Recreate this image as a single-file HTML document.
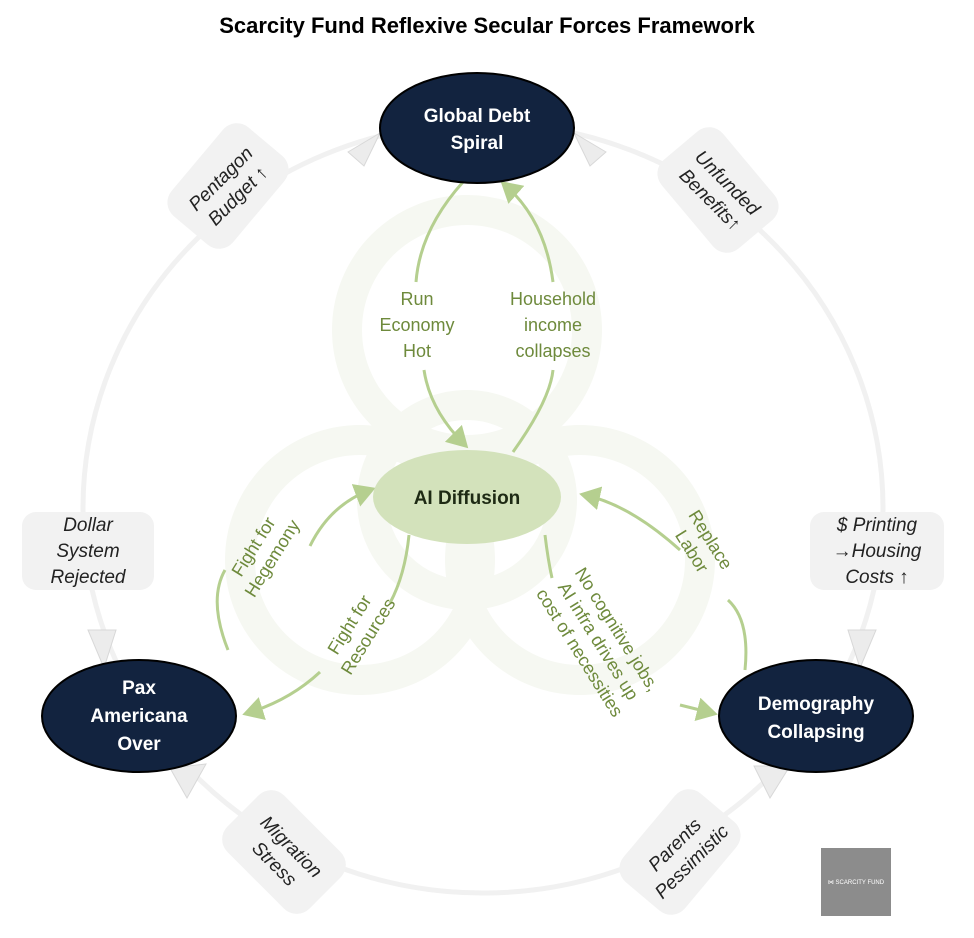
<!DOCTYPE html>
<html><head><meta charset="utf-8"><style>
html,body{margin:0;padding:0;background:#fff;}
svg{display:block;}
</style></head><body>
<svg width="974" height="938" viewBox="0 0 974 938" xmlns="http://www.w3.org/2000/svg" font-family="Liberation Sans, sans-serif">
<defs>
<marker id="ga" markerWidth="8" markerHeight="8" refX="5" refY="4" orient="auto" markerUnits="strokeWidth"><path d="M0,0 L7,4 L0,8 z" fill="#b5cf8f"/></marker>
</defs>
<text x="487" y="33" text-anchor="middle" font-size="22" font-weight="bold" fill="#000">Scarcity Fund Reflexive Secular Forces Framework</text>

<!-- faint biohazard background -->
<g fill="none" stroke="#f6f8f2" stroke-width="30">
<circle cx="467" cy="330" r="120"/>
<circle cx="360" cy="560" r="120"/>
<circle cx="580" cy="560" r="120"/>
<circle cx="467" cy="500" r="95"/>
</g>

<!-- outer ring -->
<ellipse cx="483" cy="508" rx="400" ry="385" fill="none" stroke="#f1f1f1" stroke-width="5"/>
<g fill="#ececec" stroke="#d8d8d8" stroke-width="1">
<path d="M348,152 L380,133 L364,166 z"/>
<path d="M606,152 L574,133 L590,166 z"/>
<path d="M88,630 L116,630 L104,668 z"/>
<path d="M848,630 L876,630 L860,668 z"/>
<path d="M187,798 L170,768 L206,764 z"/>
<path d="M770,798 L790,766 L754,766 z"/>
</g>

<!-- gray label boxes -->
<g fill="#f2f2f2">
<rect x="-58" y="-40" width="116" height="80" rx="18" transform="translate(228,186) rotate(-50)"/>
<rect x="-58" y="-40" width="116" height="80" rx="18" transform="translate(718,190) rotate(50)"/>
<rect x="22" y="512" width="132" height="78" rx="14"/>
<rect x="810" y="512" width="134" height="78" rx="14"/>
<rect x="-58" y="-40" width="116" height="80" rx="18" transform="translate(284,852) rotate(45)"/>
<rect x="-58" y="-40" width="116" height="80" rx="18" transform="translate(680,852) rotate(-50)"/>
</g>
<g font-style="italic" font-size="19" fill="#222" text-anchor="middle">
<text transform="translate(228,186) rotate(-45)"><tspan x="0" y="-4">Pentagon</tspan><tspan x="0" y="20">Budget ↑</tspan></text>
<text transform="translate(720,190) rotate(45)"><tspan x="0" y="-4">Unfunded</tspan><tspan x="0" y="20">Benefits↑</tspan></text>
<text x="88" y="531">Dollar</text><text x="88" y="557">System</text><text x="88" y="583">Rejected</text>
<text x="877" y="531">$ Printing</text><text x="877" y="557">→Housing</text><text x="877" y="583">Costs ↑</text>
<text transform="translate(284,854) rotate(45)"><tspan x="0" y="-4">Migration</tspan><tspan x="0" y="20">Stress</tspan></text>
<text transform="translate(682,852) rotate(-45)"><tspan x="0" y="-4">Parents</tspan><tspan x="0" y="20">Pessimistic</tspan></text>
</g>

<!-- green connectors -->
<g fill="none" stroke="#b5cf8f" stroke-width="3">
<path d="M463,182 Q420,230 416,282"/>
<path d="M424,370 Q430,410 464,444" marker-end="url(#ga)"/>
<path d="M513,452 Q550,400 553,370"/>
<path d="M553,282 Q545,220 505,185" marker-end="url(#ga)"/>
<path d="M310,546 Q330,505 370,490" marker-end="url(#ga)"/>
<path d="M228,650 Q208,600 225,570"/>
<path d="M409,535 Q405,575 390,603"/>
<path d="M320,672 Q290,700 248,713" marker-end="url(#ga)"/>
<path d="M545,535 Q548,560 552,578"/>
<path d="M680,705 Q700,710 712,713" marker-end="url(#ga)"/>
<path d="M745,670 Q750,620 728,600"/>
<path d="M680,550 Q630,505 585,495" marker-end="url(#ga)"/>
</g>
<g font-size="18" fill="#6e8a3c" text-anchor="middle">
<text x="417" y="305">Run</text><text x="417" y="331">Economy</text><text x="417" y="357">Hot</text>
<text x="553" y="305">Household</text><text x="553" y="331">income</text><text x="553" y="357">collapses</text>
<text transform="translate(262,552) rotate(-58)"><tspan x="0" y="-4">Fight for</tspan><tspan x="0" y="18">Hegemony</tspan></text>
<text transform="translate(358,630) rotate(-58)"><tspan x="0" y="-4">Fight for</tspan><tspan x="0" y="18">Resources</tspan></text>
<text transform="translate(702,545) rotate(58)"><tspan x="0" y="-4">Replace</tspan><tspan x="0" y="18">Labor</tspan></text>
<text transform="translate(600,640) rotate(58)"><tspan x="0" y="-14">No cognitive jobs,</tspan><tspan x="0" y="8">AI infra drives up</tspan><tspan x="0" y="30">cost of necessities</tspan></text>
</g>

<!-- nodes -->
<ellipse cx="477" cy="128" rx="97" ry="55" fill="#12233f" stroke="#000" stroke-width="2"/>
<text x="477" y="122" text-anchor="middle" font-size="19" font-weight="bold" fill="#fff">Global Debt</text>
<text x="477" y="149" text-anchor="middle" font-size="19" font-weight="bold" fill="#fff">Spiral</text>

<ellipse cx="467" cy="497" rx="94" ry="47" fill="#d3e2bb"/>
<text x="467" y="504" text-anchor="middle" font-size="19" font-weight="bold" fill="#1e2a14">AI Diffusion</text>

<ellipse cx="139" cy="716" rx="97" ry="56" fill="#12233f" stroke="#000" stroke-width="2"/>
<text x="139" y="694" text-anchor="middle" font-size="19" font-weight="bold" fill="#fff">Pax</text>
<text x="139" y="722" text-anchor="middle" font-size="19" font-weight="bold" fill="#fff">Americana</text>
<text x="139" y="750" text-anchor="middle" font-size="19" font-weight="bold" fill="#fff">Over</text>

<ellipse cx="816" cy="716" rx="97" ry="56" fill="#12233f" stroke="#000" stroke-width="2"/>
<text x="816" y="710" text-anchor="middle" font-size="19" font-weight="bold" fill="#fff">Demography</text>
<text x="816" y="738" text-anchor="middle" font-size="19" font-weight="bold" fill="#fff">Collapsing</text>

<!-- logo -->
<rect x="821" y="848" width="70" height="68" fill="#8c8c8c"/>
<text x="856" y="884" text-anchor="middle" font-size="6" fill="#fff">⋈ SCARCITY FUND</text>
</svg>
</body></html>
